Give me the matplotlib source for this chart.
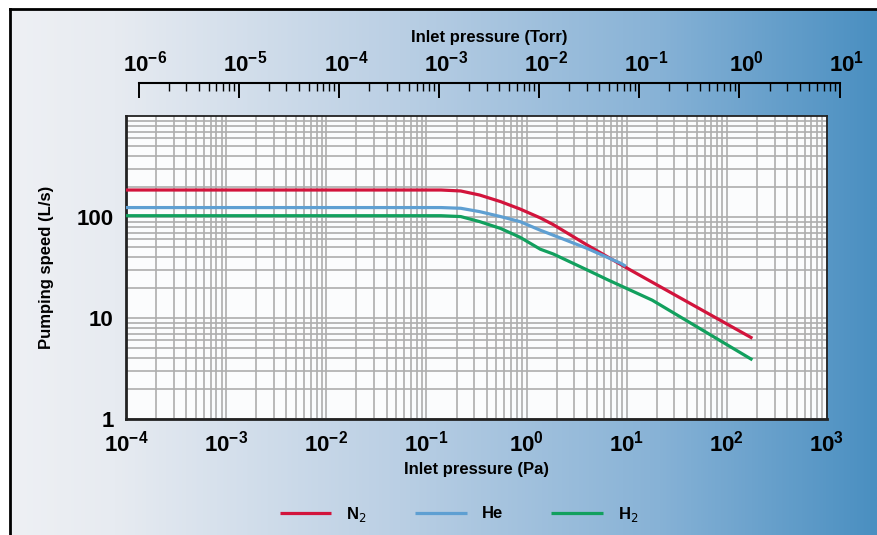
import numpy as np
import matplotlib.pyplot as plt
import matplotlib.transforms as mtransforms
from matplotlib.colors import LinearSegmentedColormap
from matplotlib.ticker import LogLocator

plt.rcParams['font.family'] = ['Liberation Sans', 'DejaVu Sans']
plt.rcParams['axes.unicode_minus'] = False

# Данные (давление в Па, скорость откачки в L/s)
n2_pa = [1e-4, 0.14, 0.22, 0.34, 0.55, 0.86, 1.37, 1.85, 4.0, 10.0, 180.0]
n2_speed = [185, 185, 181, 165, 142, 120, 98, 84, 53, 31.3, 6.3]

he_pa = [1e-4, 0.14, 0.22, 0.34, 0.55, 0.86, 1.37, 1.85, 4.0, 8.6, 9.8]
he_speed = [124, 124, 122, 113, 101, 90, 74, 66, 49, 35, 32.5]

h2_pa = [1e-4, 0.14, 0.22, 0.34, 0.55, 0.86, 1.37, 1.85, 4.0, 6.4, 18.0, 180.0]
h2_speed = [103, 103, 101, 90, 77, 63, 48, 43, 30, 24, 15, 3.85]

series_labels = ["N$_2$", "He", "H$_2$"]
series_colors = ["#d2143c", "#5e9fd2", "#12a05e"]

y_ticks = [1, 10, 100]
y_tick_labels = ["1", "10", "100"]

pa_lim = (1e-4, 1e3)
torr_lim = (1e-6, 1e1)
PA_PER_TORR = 133.322

W, H = 877, 535
fig = plt.figure(figsize=(W / 100, H / 100), dpi=100)

# фон с градиентом и рамкой
bg = fig.add_axes([0, 0, 1, 1], zorder=-10)
cmap = LinearSegmentedColormap.from_list(
    "bg", [(0, "#eef0f4"), (0.12, "#e7ebf1"), (0.45, "#bacfe4"),
           (0.75, "#87b2d6"), (1, "#4a8fc1")])
bg.imshow(np.linspace(0, 1, 512)[None, :], aspect="auto", cmap=cmap,
          extent=[10 / W, 1, 0, 1 - 9 / H])
bg.plot([10 / W, 10 / W], [0, 1 - 9 / H], color="black", lw=2)
bg.plot([10 / W, 1], [1 - 9 / H, 1 - 9 / H], color="black", lw=2)
bg.set_xlim(0, 1)
bg.set_ylim(0, 1)
bg.axis("off")

# основной график
ax_l, ax_b, ax_w, ax_h = 126 / W, 1 - 419 / H, 701 / W, 303 / H
ax = fig.add_axes([ax_l, ax_b, ax_w, ax_h])
ax.set_facecolor("#fbfcfd")

for xs, ys, lab, col in zip([n2_pa, he_pa, h2_pa], [n2_speed, he_speed, h2_speed],
                            series_labels, series_colors):
    ax.plot(xs, ys, color=col, lw=2.3, label=lab, solid_capstyle="butt",
            solid_joinstyle="round", zorder=3)

ax.set_xscale("log")
ax.set_yscale("log")
ax.set_xlim(*pa_lim)
ax.set_ylim(1, 1000)
ax.xaxis.set_major_locator(LogLocator(base=10, numticks=12))
ax.set_yticks(y_ticks, labels=y_tick_labels)
ax.grid(True, which="both", color="#adadad", lw=1.2)
ax.tick_params(which="both", length=0)
ax.tick_params(axis="x", pad=8)
ax.tick_params(axis="y", pad=9)
for lbl in ax.get_xticklabels() + ax.get_yticklabels():
    lbl.set_fontsize(16)
    lbl.set_fontweight("bold")
for s in ax.spines.values():
    s.set_color("#222222")
    s.set_linewidth(1.3)
ax.spines["left"].set_linewidth(2)
ax.spines["bottom"].set_linewidth(2)

ax.set_xlabel("Inlet pressure (Pa)", fontsize=12, fontweight="bold", labelpad=4)
ax.set_ylabel("Pumping speed (L/s)", fontsize=12, fontweight="bold", labelpad=16)

# верхняя шкала в Торр
frac0 = (np.log10(torr_lim[0] * PA_PER_TORR) - np.log10(pa_lim[0])) / 7
tax = fig.add_axes([ax_l + ax_w * frac0, 1 - 83 / H - 0.02, ax_w, 0.02])
tax.set_xscale("log")
tax.set_xlim(*torr_lim)
tax.patch.set_alpha(0)
for s in ["left", "right", "bottom"]:
    tax.spines[s].set_visible(False)
tax.spines["top"].set_linewidth(1.5)
tax.yaxis.set_visible(False)
tax.xaxis.tick_top()
tax.xaxis.set_label_position("top")
tax.xaxis.set_major_locator(LogLocator(base=10, numticks=12))
tax.tick_params(axis="x", which="major", direction="in", length=11, width=1.4, pad=5)
tax.tick_params(axis="x", which="minor", direction="in", length=6, width=1)
shift = mtransforms.ScaledTranslation(7 / 100, 0, fig.dpi_scale_trans)
for lbl in tax.get_xticklabels():
    lbl.set_fontsize(16)
    lbl.set_fontweight("bold")
    lbl.set_transform(lbl.get_transform() + shift)
tax.set_xlabel("Inlet pressure (Torr)", fontsize=12, fontweight="bold", labelpad=6)

fig.legend(loc="center", bbox_to_anchor=(459 / W, 1 - 514 / H), ncol=3,
           frameon=False, handlelength=3.1, handletextpad=0.9, columnspacing=2.9,
           prop={"size": 12, "weight": "bold"})

fig.savefig("out.png", dpi=100)
